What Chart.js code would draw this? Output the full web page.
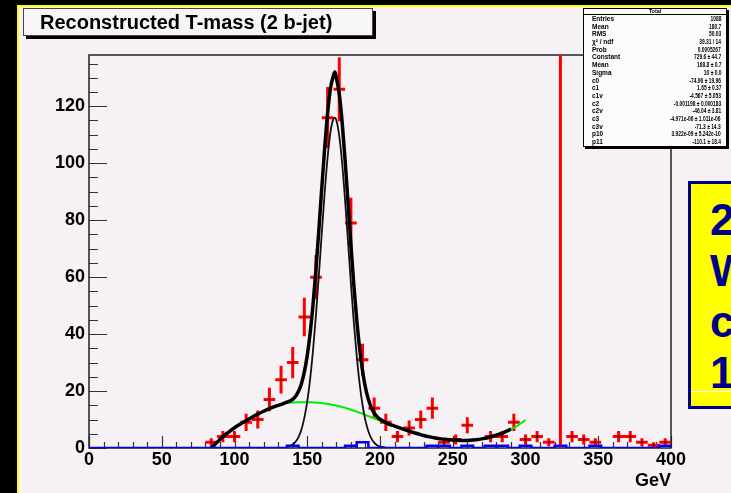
<!DOCTYPE html>
<html><head><meta charset="utf-8">
<script src="https://cdn.jsdelivr.net/npm/chart.js@4.4.1/dist/chart.umd.min.js"></script>
<style>
html,body{margin:0;padding:0;background:#000;}
#wrap{position:relative;width:731px;height:493px;overflow:hidden;}
#c{position:absolute;left:0;top:0;}
.ff{font-family:"Liberation Sans",Arial,Helvetica,sans-serif;}
#title{position:absolute;left:23px;top:8px;width:350px;height:28px;box-sizing:border-box;background:#f7f5f7;border:1px solid #444;box-shadow:3px 3px 0 #000;font-weight:bold;font-size:20px;line-height:26px;padding-left:16px;color:#000;white-space:nowrap;}
#stats{position:absolute;left:583px;top:8px;width:144px;height:139px;box-sizing:border-box;background:#fbfbfb;border:1px solid #000;box-shadow:2px 2px 0 #000;color:#000;overflow:hidden;}
#stats .hd{height:5px;border-bottom:1px solid #000;font-size:5.5px;line-height:5px;text-align:center;font-weight:bold;}
#stats .row{position:relative;height:7.7px;font-size:6.5px;line-height:7.7px;font-weight:bold;}
#stats .row .l{position:absolute;left:8px;}
#stats .row .v{position:absolute;right:5px;transform:scaleX(0.75);transform-origin:right center;white-space:nowrap;}
#ybox{position:absolute;left:688px;top:181px;width:90px;height:228px;box-sizing:border-box;background:#ffff00;border:3px solid #000088;color:#000088;font-weight:bold;font-size:44px;line-height:51px;padding-left:19px;padding-top:10px;}
#ybox .wl{position:absolute;left:0;right:0;top:207px;height:1px;background:#fff;}
</style>
</head><body>
<div id="wrap">
<canvas id="c" width="731" height="493"></canvas>
<div id="title" class="ff">Reconstructed T-mass (2 b-jet)</div>
<div id="stats" class="ff"></div>
<div id="ybox" class="ff"><div>2</div><div>W</div><div>c</div><div>1</div><div class="wl"></div></div>
</div>
<script>
// ---- data ----
const dataX = [84,92,100,108,116,124,132,140,148,156,164,172,180,188,196,204,212,220,228,236,244,252,260,276,284,292,300,308,316,332,340,348,364,372,380,388,396];
const dataY = [2,4,4,9,10,17,24,30,46,60,116,126,79,31,14,9,4,7,10,14,2,3,8,4,4,9,3,4,2,4,3,2,4,4,2,1,2];
const binHalf = 4;
const spikeX = 324;

const fitX = [84,86,88,92,96,100,104,108,112,116,120,124,128,132,136,138,140,142,144,146,148,150,152,154,156,158,160,162,164,166,168,169,170,172,174,176,178,180,182,184,186,188,190,192,194,196,198,200,202,204,206,210,214,218,222,226,230,234,238,242,246,250,254,258,262,266,270,274,278,282,286,290];
const fitY = [0,1.0,2.0,4.0,5.6,7.1,8.4,9.6,10.8,11.9,12.9,13.8,14.6,15.3,16.1,16.5,17.1,18.2,19.9,22.6,26.7,32.5,40.4,50.5,62.8,76.7,91.4,105.4,117.6,126.4,130.7,132.0,130.0,124.3,114.3,101.1,86.4,71.4,57.3,45.1,35.0,27.1,21.2,17.1,14.2,12.3,11.0,10.1,9.5,8.9,8.4,7.7,7.0,6.3,5.6,5.0,4.4,3.9,3.5,3.2,3.0,2.8,2.7,2.6,2.7,2.9,3.2,3.6,4.2,4.9,5.7,6.6];

const sigX = [136,138,140,142,144,146,148,150,152,154,156,158,160,162,164,166,168,169,170,172,174,176,178,180,182,184,186,188,190,192,194,196,198,200,202,204];
const sigY = [0.3,0.6,1.2,2.2,3.8,6.5,10.6,16.4,24.3,34.5,46.8,60.8,75.6,89.8,102.1,111.1,115.6,116.0,115.1,109.6,99.9,87.0,72.6,57.9,44.2,32.3,22.6,15.1,9.6,5.9,3.4,1.9,1.0,0.5,0.3,0.1];

const bgX = [134,138,142,146,150,154,158,162,166,170,174,178,182,186,190,194,198,202,206,210,214,218,222,226,230,234,238,242,246,250,254,258,262,266,270,274,278,282,286,290,294,298,300];
const bgY = [15.7,15.9,16.0,16.1,16.1,16.0,15.9,15.6,15.3,14.9,14.4,13.8,13.1,12.4,11.6,10.8,10.0,9.2,8.4,7.7,7.0,6.3,5.6,5.0,4.4,3.9,3.5,3.2,3.0,2.8,2.7,2.6,2.7,2.9,3.2,3.6,4.2,4.9,5.7,6.6,7.7,9.1,9.8];

const blueLow = [136,176,184,232,240,256,272,280,296,320,344,392];
const blueVal = [0.8,0.8,2.0,0.8,0.8,0.8,0.8,0.8,0.8,0.8,0.8,0.8];
const blueWidth = 8;

const xTicks = [0,50,100,150,200,250,300,350,400];
const yTicks = [0,20,40,60,80,100,120];

const statLabels = ["Entries","Mean","RMS","\u03C7\u00B2 / ndf","Prob","Constant","Mean","Sigma","c0","c1","c1v","c2","c2v","c3","c3v","p10","p11"];
const statValues = ["1088","180.7","50.03","39.31 / 14","0.0005267","729.6 \u00B1 44.7","168.8 \u00B1 0.7","10 \u00B1 0.0","-74.96 \u00B1 19.96","1.65 \u00B1 0.37","-4.567 \u00B1 5.053","-0.001198 \u00B1 0.000183","-46.04 \u00B1 3.81","-4.971e-06 \u00B1 1.011e-06","-71.3 \u00B1 14.3","3.922e-09 \u00B1 5.242e-10","-110.1 \u00B1 18.4"];

// ---- stats box ----
(function(){
  const s = document.getElementById('stats');
  let h = '<div class="hd">Total</div>';
  statLabels.forEach((l,i)=>{ h += '<div class="row"><span class="l">'+l+'</span><span class="v">'+statValues[i]+'</span></div>'; });
  s.innerHTML = h;
})();

// ---- build datasets ----
const crossPts = [];
dataX.forEach((x,i)=>{
  const y = dataY[i], e = Math.sqrt(y);
  crossPts.push({x:x-binHalf,y:y},{x:x+binHalf,y:y},{x:x,y:null},{x:x,y:y-e},{x:x,y:y+e},{x:x,y:null});
});
const dotPts = dataX.map((x,i)=>({x:x,y:dataY[i]}));
const bluePts = [{x:0,y:0}];
blueLow.forEach((lo,i)=>{
  bluePts.push({x:lo,y:0},{x:lo,y:blueVal[i]},{x:lo+blueWidth,y:blueVal[i]},{x:lo+blueWidth,y:0});
});
bluePts.push({x:400,y:0});

const FONT = '"Liberation Sans", Arial, Helvetica, sans-serif';
const PAD = '#f5f1f5';

const bgPlugin = {
  id:'rootpad',
  beforeDraw(chart){
    const ctx = chart.ctx;
    ctx.save();
    ctx.fillStyle = '#000'; ctx.fillRect(0,0,chart.width,chart.height);
    ctx.fillStyle = '#ffff00'; ctx.fillRect(17,5,chart.width,chart.height);
    ctx.fillStyle = PAD; ctx.fillRect(19,7,chart.width,chart.height);
    ctx.restore();
  },
  beforeDatasetsDraw(chart){
    const ctx = chart.ctx, a = chart.chartArea;
    const xs = chart.scales.x, ys = chart.scales.y;
    ctx.save();
    ctx.strokeStyle = '#333'; ctx.lineWidth = 1.2;
    ctx.beginPath();
    for (let v=0; v<=138; v+=5){
      const py = Math.round(ys.getPixelForValue(v))+0.5;
      const len = (v%20===0)?18:9;
      ctx.moveTo(a.left,py); ctx.lineTo(a.left+len,py);
    }
    for (let v=0; v<=400; v+=10){
      const px = Math.round(xs.getPixelForValue(v))+0.5;
      const len = (v%50===0)?12:6;
      ctx.moveTo(px,a.bottom); ctx.lineTo(px,a.bottom-len);
    }
    ctx.stroke();
    ctx.strokeStyle = '#222'; ctx.lineWidth = 1.5;
    ctx.strokeRect(a.left, a.top, a.right-a.left, a.bottom-a.top);
    ctx.restore();
  }
};

new Chart(document.getElementById('c'), {
  type:'line',
  data:{ datasets:[
    {label:'mc', data:bluePts, borderColor:'#0000ff', borderWidth:2.5, pointRadius:0, tension:0, order:0},
    {label:'fit', data:fitX.map((x,i)=>({x:x,y:fitY[i]})), borderColor:'#000', borderWidth:3.5, pointRadius:0, cubicInterpolationMode:'monotone', order:1},
    {label:'signal', data:sigX.map((x,i)=>({x:x,y:sigY[i]})), borderColor:'#111', borderWidth:1.8, pointRadius:0, cubicInterpolationMode:'monotone', order:2},
    {label:'bkg', data:bgX.map((x,i)=>({x:x,y:bgY[i]})), borderColor:'#00ee00', borderWidth:2, pointRadius:0, cubicInterpolationMode:'monotone', order:3},
    {label:'dots', data:dotPts, showLine:false, pointRadius:1, pointBackgroundColor:'#000', pointBorderWidth:0, order:4},
    {label:'data', data:crossPts, borderColor:'#ff0000', borderWidth:3, pointRadius:0, spanGaps:false, tension:0, order:5},
    {label:'spike', data:[{x:spikeX,y:0},{x:spikeX,y:138}], borderColor:'#ff0000', borderWidth:3, pointRadius:0, order:5}
  ]},
  options:{
    responsive:false, animation:false, devicePixelRatio:1,
    layout:{padding:{left:0,right:60,top:55,bottom:0}},
    plugins:{legend:{display:false}, tooltip:{enabled:false}},
    scales:{
      x:{type:'linear', min:0, max:400,
         afterFit(s){ s.height = 45; },
         afterBuildTicks(s){ s.ticks = xTicks.map(v=>({value:v})); },
         grid:{display:false, drawTicks:false}, border:{display:false},
         ticks:{padding:1, color:'#000', maxRotation:0, autoSkip:false, font:{family:FONT, size:18, weight:'bold'}},
         title:{display:true, text:'GeV', align:'end', color:'#000', font:{family:FONT, size:18, weight:'bold'}, padding:{top:0,bottom:1}}},
      y:{type:'linear', min:0, max:138,
         afterFit(s){ s.width = 89; },
         afterBuildTicks(s){ s.ticks = yTicks.map(v=>({value:v})); },
         grid:{display:false, drawTicks:false}, border:{display:false},
         ticks:{padding:4, color:'#000', font:{family:FONT, size:18, weight:'bold'}}}
    }
  },
  plugins:[bgPlugin]
});
</script>
</body></html>
